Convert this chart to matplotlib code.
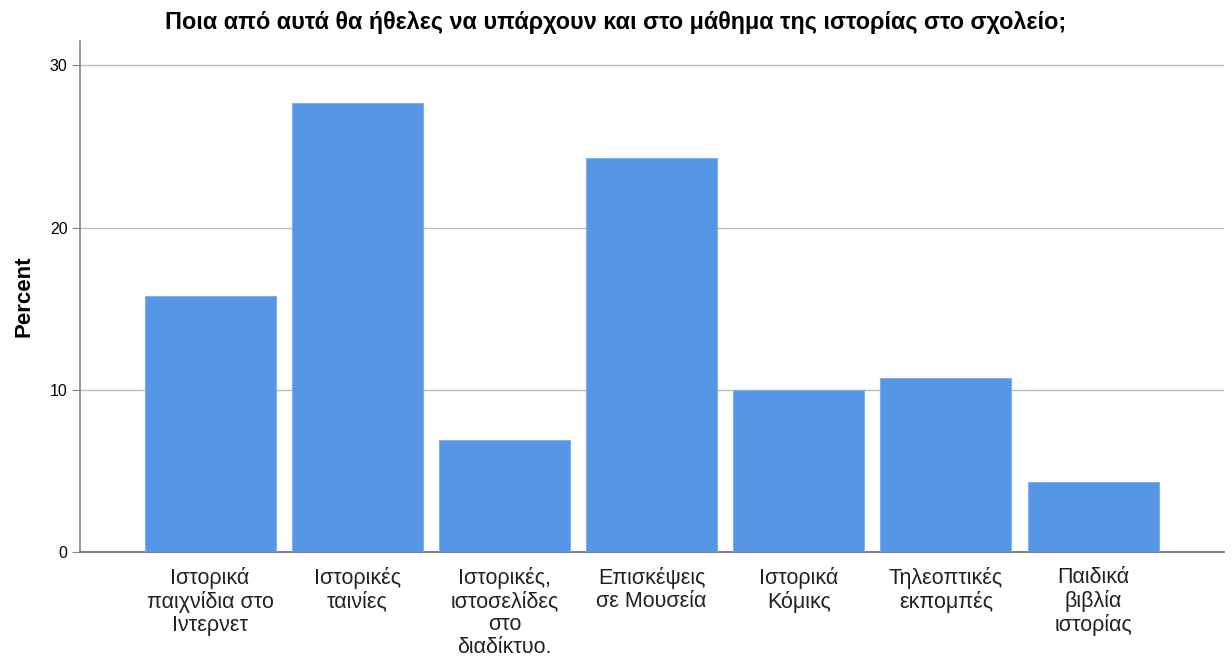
import matplotlib
matplotlib.use('Agg')
import matplotlib.pyplot as plt

# answers and their share in percent
categories = [
    'Ιστορικά\nπαιχνίδια στο\nΙντερνετ',
    'Ιστορικές\nταινίες',
    'Ιστορικές,\nιστοσελίδες\nστο\nδιαδίκτυο.',
    'Επισκέψεις\nσε Μουσεία',
    'Ιστορικά\nΚόμικς',
    'Τηλεοπτικές\nεκπομπές',
    'Παιδικά\nβιβλία\nιστορίας',
]
percent = [15.8, 27.7, 6.9, 24.3, 10.0, 10.7, 4.3]
yticks = [0, 10, 20, 30]

plt.rcParams['font.family'] = ['Liberation Sans', 'DejaVu Sans']

fig = plt.figure(figsize=(12.32, 6.59), dpi=100)
ax = fig.add_axes([80 / 1232, 1 - 552 / 659, (1224 - 80) / 1232, (552 - 41) / 659])

x = range(len(categories))
ax.bar(x, percent, width=0.89, color='#5596e6', edgecolor='#7fb0ee', linewidth=0.8, zorder=3)

ax.set_xlim(-0.884, 6.89)
ax.set_ylim(0, 31.5)
ax.set_yticks(yticks)
ax.set_yticklabels([str(t) for t in yticks], fontsize=11.5)
ax.set_xticks(list(x))
ax.set_xticklabels(categories, fontsize=15.5, linespacing=1.12, va='top', color='#222222')
ax.tick_params(axis='x', length=0, pad=11)
ax.tick_params(axis='y', length=6, width=0.8, color='#888888', pad=3)

for t in yticks[1:]:
    ax.axhline(t, color='#bdbdbd', linewidth=1, zorder=1)

for s in ['top', 'right']:
    ax.spines[s].set_visible(False)
ax.spines['left'].set_color('#888888')
ax.spines['bottom'].set_color('#666666')
ax.spines['left'].set_linewidth(1.2)
ax.spines['bottom'].set_linewidth(1.2)

ax.set_ylabel('Percent', fontsize=16, fontweight='bold', labelpad=11)
fig.text(0.5, 1 - 22 / 659, 'Ποια από αυτά θα ήθελες να υπάρχουν και στο μάθημα της ιστορίας στο σχολείο;',
         ha='center', va='center', fontsize=16.8, fontweight='bold')

fig.savefig('out.png', dpi=100)
